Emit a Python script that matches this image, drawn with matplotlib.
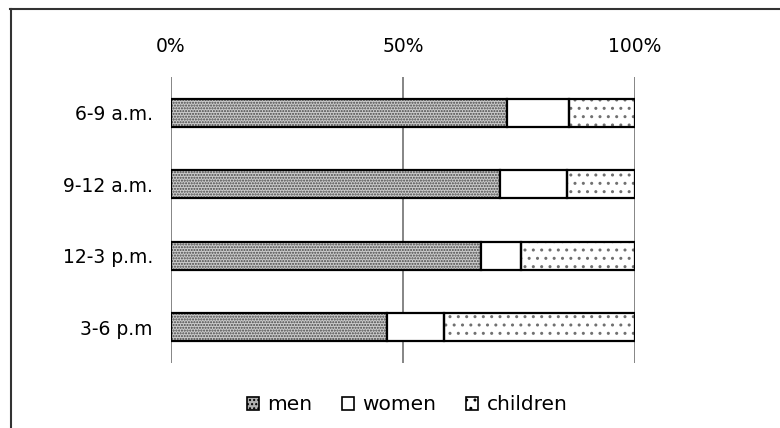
import matplotlib
matplotlib.use("Agg")
import matplotlib.pyplot as plt
from matplotlib.lines import Line2D
from matplotlib.patches import Patch
import numpy as np

# du lieu doc tu hinh
categories = ["6-9 a.m.", "9-12 a.m.", "12-3 p.m.", "3-6 p.m"]
men = [72.4, 71.0, 66.8, 46.6]
women = [13.4, 14.4, 8.6, 12.2]
children = [14.2, 14.6, 24.6, 41.2]
series_names = ["men", "women", "children"]
tick_labels = ["0%", "50%", "100%"]

plt.rcParams['font.family'] = ['DejaVu Sans']
plt.rcParams['hatch.linewidth'] = 1.0

fig = plt.figure(figsize=(7.8, 4.28), dpi=100)
ax = fig.add_axes([171 / 780, 1 - 363 / 428, 464 / 780, 286 / 428])

y = np.arange(len(categories))
men_a = np.array(men)
women_a = np.array(women)
children_a = np.array(children)
tot = men_a + women_a + children_a
men_p = men_a / tot * 100
women_p = women_a / tot * 100
children_p = children_a / tot * 100
left_w = men_p
left_c = men_p + women_p

h = 0.39
# lop hoa van (mau hatch theo edgecolor)
ax.barh(y, men_p, height=h, color='#cccccc', edgecolor='#454545', hatch='......', lw=0, zorder=3)
ax.barh(y, children_p, left=left_c, height=h, color='white', edgecolor='#707070', hatch='..', lw=0, zorder=3)
# lop vien den
ax.barh(y, men_p, height=h, fill=False, edgecolor='black', lw=1.6, zorder=4)
ax.barh(y, women_p, left=left_w, height=h, color='white', edgecolor='black', lw=1.6, zorder=4)
ax.barh(y, children_p, left=left_c, height=h, fill=False, edgecolor='black', lw=1.6, zorder=4)

ax.set_xlim(0, 100)
ax.set_ylim(len(categories) - 0.5, -0.5)
ax.set_xticks([0, 50, 100])
ax.set_xticklabels(tick_labels, fontsize=13.5)
ax.xaxis.tick_top()
ax.tick_params(axis='x', length=0, pad=15)
ax.set_yticks(y)
ax.set_yticklabels(categories, fontsize=13.5)
ax.tick_params(axis='y', length=0, pad=13)
for s in ax.spines.values():
    s.set_visible(False)
ax.grid(axis='x', color='#858585', lw=1.4, zorder=0)

handles = [
    Patch(facecolor='#b0b0b0', edgecolor='black', hatch='....', lw=1.2),
    Patch(facecolor='white', edgecolor='black', lw=1.2),
    Patch(facecolor='white', edgecolor='black', hatch='..', lw=1.2),
]
leg = fig.legend(handles, series_names, loc='center', bbox_to_anchor=(407 / 780, 1 - 405 / 428),
                 ncol=3, frameon=False, fontsize=14.5, handlelength=0.6, handleheight=0.6,
                 handletextpad=0.4, columnspacing=1.5, borderpad=0)

# khung bi cat o ben phai va duoi
fig.add_artist(Line2D([10 / 780, 1], [1 - 8.5 / 428, 1 - 8.5 / 428], color='#333333', lw=1.5))
fig.add_artist(Line2D([10.5 / 780, 10.5 / 780], [0, 1 - 8.5 / 428], color='#333333', lw=1.5))

fig.savefig("out.png", dpi=100)
